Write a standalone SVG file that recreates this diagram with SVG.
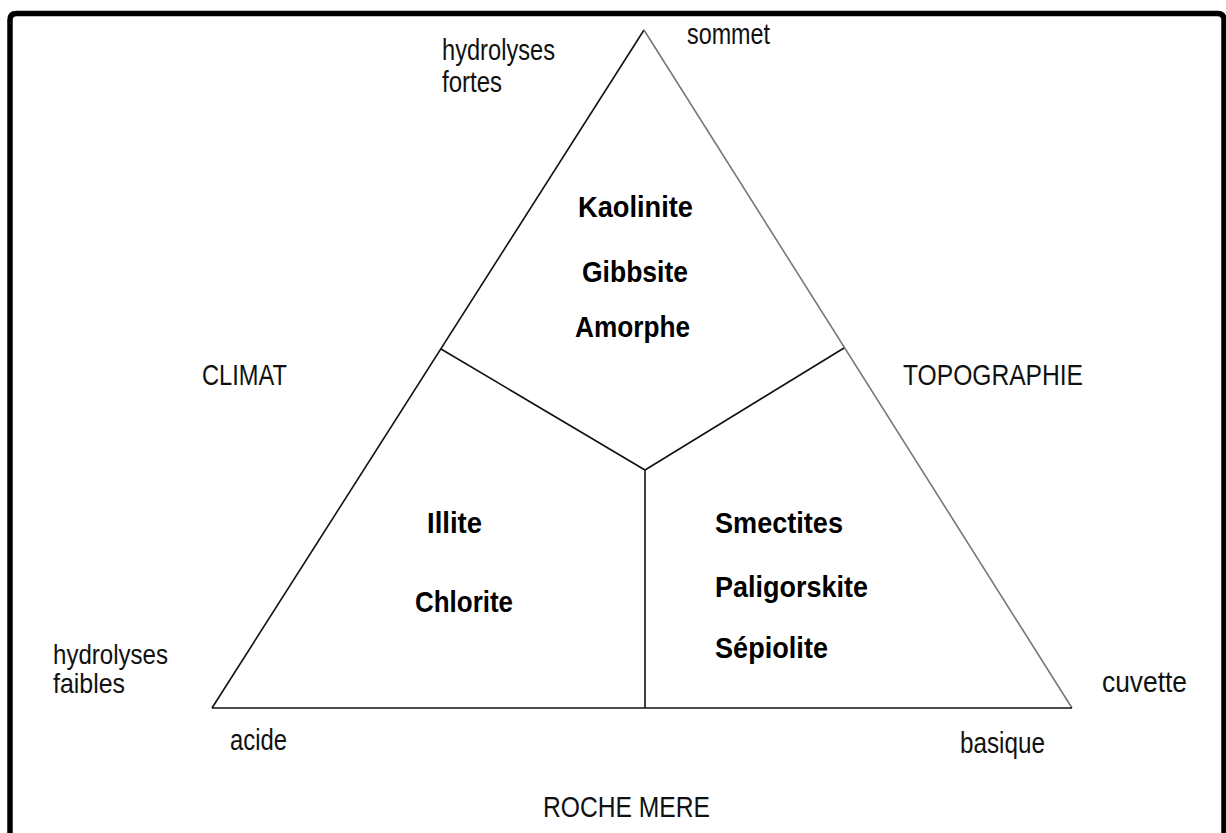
<svg xmlns="http://www.w3.org/2000/svg" width="1226" height="833" viewBox="0 0 1226 833">
<style>
.t{font-family:"Liberation Sans",Arial,sans-serif;font-size:30px;fill:#111}
.s{font-size:28px}
.b{font-family:"Liberation Sans",Arial,sans-serif;font-size:30px;font-weight:bold;fill:#000}
.ln{stroke:#111;stroke-width:1.6;fill:none}
</style>
<rect width="1226" height="833" fill="#fff"/>
<path d="M10,833 L10,20 Q10,13.5 16.5,13.5 L1217.5,13.5 Q1224,13.5 1224,20 L1224,833" fill="none" stroke="#000" stroke-width="5.5"/>
<g id="connectors">
<line class="ln" x1="212" y1="708" x2="644" y2="30"/>
<line x1="644" y1="30" x2="1072" y2="708" stroke="#777" stroke-width="1.6"/>
<line class="ln" x1="212" y1="708" x2="1072" y2="708"/>
<line class="ln" x1="441" y1="349" x2="645" y2="470"/>
<line class="ln" x1="844" y1="348" x2="645" y2="470"/>
<line class="ln" x1="645" y1="470" x2="645" y2="708"/>
</g>
<g id="top-labels">
<text class="t" x="442" y="60" textLength="113" lengthAdjust="spacingAndGlyphs">hydrolyses</text>
<text class="t" x="442" y="92" textLength="60" lengthAdjust="spacingAndGlyphs">fortes</text>
<text class="t" x="687" y="44" textLength="83" lengthAdjust="spacingAndGlyphs">sommet</text>
</g>
<g id="side-labels">
<text class="t" x="202" y="385" textLength="85" lengthAdjust="spacingAndGlyphs">CLIMAT</text>
<text class="t" x="903" y="385" textLength="180" lengthAdjust="spacingAndGlyphs">TOPOGRAPHIE</text>
</g>
<g id="bottom-labels">
<text class="t s" x="53" y="664" textLength="115" lengthAdjust="spacingAndGlyphs">hydrolyses</text>
<text class="t s" x="53" y="693" textLength="72" lengthAdjust="spacingAndGlyphs">faibles</text>
<text class="t" x="230" y="750" textLength="57" lengthAdjust="spacingAndGlyphs">acide</text>
<text class="t" x="1102" y="692" textLength="85" lengthAdjust="spacingAndGlyphs">cuvette</text>
<text class="t" x="960" y="753" textLength="85" lengthAdjust="spacingAndGlyphs">basique</text>
<text class="t" x="543" y="817" textLength="167" lengthAdjust="spacingAndGlyphs">ROCHE MERE</text>
</g>
<g id="node-top">
<text class="b" x="578" y="217" textLength="115" lengthAdjust="spacingAndGlyphs">Kaolinite</text>
<text class="b" x="582" y="282" textLength="106" lengthAdjust="spacingAndGlyphs">Gibbsite</text>
<text class="b" x="575" y="337" textLength="115" lengthAdjust="spacingAndGlyphs">Amorphe</text>
</g>
<g id="node-left">
<text class="b" x="427" y="533" textLength="55" lengthAdjust="spacingAndGlyphs">Illite</text>
<text class="b" x="415" y="612" textLength="98" lengthAdjust="spacingAndGlyphs">Chlorite</text>
</g>
<g id="node-right">
<text class="b" x="715" y="533" textLength="128" lengthAdjust="spacingAndGlyphs">Smectites</text>
<text class="b" x="715" y="597" textLength="153" lengthAdjust="spacingAndGlyphs">Paligorskite</text>
<text class="b" x="715" y="658" textLength="113" lengthAdjust="spacingAndGlyphs">Sépiolite</text>
</g>
</svg>
